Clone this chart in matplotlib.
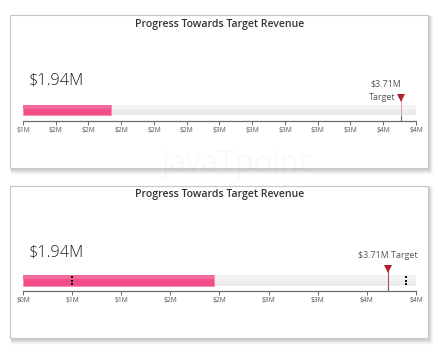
import matplotlib
matplotlib.use("Agg")
import matplotlib.pyplot as plt
from matplotlib.patches import Rectangle

# ---------------- data ----------------
title = "Progress Towards Target Revenue"
actual_value = 1.94          # $M
target_value = 3.71          # $M
value_label = "$1.94M"
target_label = "$3.71M"

top_ticks = [1.4, 1.6, 1.8, 2.0, 2.2, 2.4, 2.6, 2.8, 3.0, 3.2, 3.4, 3.6, 3.8]
top_tick_labels = ["$1M", "$2M", "$2M", "$2M", "$2M", "$2M", "$3M",
                   "$3M", "$3M", "$3M", "$3M", "$4M", "$4M"]
top_range = (1.4, 3.8)

bottom_ticks = [0.0, 0.5, 1.0, 1.5, 2.0, 2.5, 3.0, 3.5, 4.0]
bottom_tick_labels = ["$0M", "$1M", "$1M", "$2M", "$2M", "$3M", "$3M", "$4M", "$4M"]
bottom_range = (0.0, 4.0)
bottom_handles = [0.5, 3.9]   # small "more" handles on the bottom bar

FONT = ["Open Sans", "DejaVu Sans"]
plt.rcParams["font.family"] = FONT

W, H = 439, 354
fig = plt.figure(figsize=(W / 100, H / 100), dpi=100)
fig.patch.set_facecolor("white")

bg = fig.add_axes([0, 0, 1, 1])
bg.set_xlim(0, W)
bg.set_ylim(H, 0)
bg.axis("off")


def card(y0, y1):
    x0, x1 = 10, 428
    # shadow
    for i, a in enumerate([0.10, 0.08, 0.06, 0.04, 0.02]):
        d = i + 1
        bg.add_patch(Rectangle((x0 + 1, y0 + 1), x1 - x0 + d, y1 - y0 + d + 1,
                               facecolor="#606060", alpha=a, edgecolor="none", zorder=1))
    bg.add_patch(Rectangle((x0, y0), x1 - x0, y1 - y0, facecolor="white",
                           edgecolor="#c6c6c6", linewidth=0.8, zorder=2))


card(15, 168)
card(186, 338)

for ty in (24, 195):
    bg.text(220, ty, title, ha="center", va="center", fontsize=7.6,
            fontweight="semibold", color="#333333", zorder=5)

bg.text(29, 81, value_label, ha="left", va="center", fontsize=11.8,
        fontweight="light", color="#1e1e1e", zorder=5)
bg.text(29, 252, value_label, ha="left", va="center", fontsize=11.8,
        fontweight="light", color="#1e1e1e", zorder=5)

# watermark
bg.text(236, 164, "javaTpoint", ha="center", va="center", fontsize=22,
        color="#000000", alpha=0.025, zorder=6)


def bullet(axis_y, bar_top, bar_bot, tri_y, rng, ticks, labels, line_col, bar_line_col):
    left, right = 23, 416
    top = axis_y - 60
    ax = fig.add_axes([left / W, (H - axis_y) / H, (right - left) / W, (axis_y - top) / H])
    ax.set_xlim(*rng)
    ax.set_ylim(0, axis_y - top)
    ax.set_facecolor("none")
    for s in ("top", "right", "left"):
        ax.spines[s].set_visible(False)
    ax.spines["bottom"].set_color("#6b6b6b")
    ax.spines["bottom"].set_linewidth(0.9)
    ax.set_yticks([])
    ax.set_xticks(ticks)
    ax.set_xticklabels(labels)
    ax.tick_params(axis="x", length=3, width=0.7, color="#6b6b6b", pad=1.5,
                   labelsize=4.9, labelcolor="#555555")
    y0 = axis_y - bar_bot
    h = bar_bot - bar_top
    span = rng[1] - rng[0]
    # track
    ax.barh(y0 + h / 2, span, left=rng[0], height=h, color="#ebebeb", zorder=1)
    ax.barh(y0 + h * 0.75, span, left=rng[0], height=h / 2, color="#f3f3f3", zorder=1)
    # actual bar
    ax.barh(y0 + h / 2, actual_value - rng[0], left=rng[0], height=h,
            color="#f04d89", edgecolor="#f78cb2", linewidth=0.6, zorder=2)
    ax.barh(y0 + h * 0.8, actual_value - rng[0], left=rng[0], height=h * 0.35,
            color="#f56a9c", zorder=2, linewidth=0)
    # target marker
    ty = axis_y - tri_y
    ax.plot([target_value, target_value], [0, y0], color=line_col, lw=0.8, zorder=3)
    ax.plot([target_value, target_value], [y0, ty], color=bar_line_col, lw=0.8, zorder=3)
    ax.plot([target_value], [ty], marker="v", markersize=5.5, color="#b5202a",
            markeredgewidth=0, zorder=4, clip_on=False)
    return ax, y0, h


ax1, y01, h1 = bullet(121, 105, 115, 98, top_range, top_ticks, top_tick_labels,
                      "#6b6b6b", "#e2a9b0")
ax1.text(target_value, 121 - 84, target_label, ha="right", va="center",
         fontsize=6.4, color="#555555", transform=ax1.transData)
ax1.annotate("Target", (target_value, 121 - 98), xytext=(-4.5, 0.5),
             textcoords="offset points", ha="right", va="center",
             fontsize=6.4, color="#555555")

ax2, y02, h2 = bullet(291, 275, 286, 269, bottom_range, bottom_ticks, bottom_tick_labels,
                      "#8a4a4e", "#b0505a")
ax2.text(target_value, 291 - 256, target_label + " Target", ha="center", va="center",
         fontsize=6.4, color="#555555")
for hx in bottom_handles:
    ax2.plot([hx] * 3, [y02 + h2 / 2 - 3.2, y02 + h2 / 2, y02 + h2 / 2 + 3.2], ls="none",
             marker="s", markersize=1.5, color="#111111", markeredgewidth=0, zorder=5)

fig.savefig("out.png", dpi=100, facecolor="white")
